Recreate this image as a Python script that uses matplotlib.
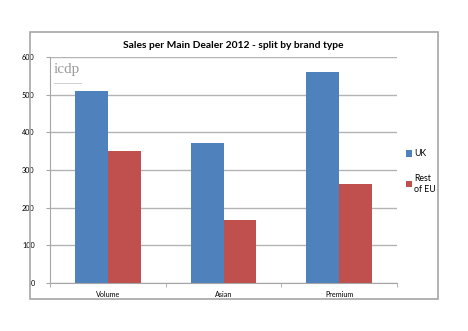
import numpy as np
import matplotlib.pyplot as plt
from matplotlib.patches import Rectangle
from matplotlib.lines import Line2D

plt.rcParams["font.family"] = ["Lato", "DejaVu Sans"]

categories = ["Volume", "Asian", "Premium"]
uk = [511, 371, 560]
rest_eu = [351, 167, 264]
series_labels = ["UK", "Rest\nof EU"]

fig = plt.figure(figsize=(4.68, 3.31), dpi=100)
fig.patch.set_facecolor("white")

# outer chart frame
fig.patches.append(Rectangle((30 / 468, 1 - 299 / 331), 408 / 468, 267 / 331,
                             transform=fig.transFigure, fill=False,
                             edgecolor="#a6a6a6", linewidth=1.2))

ax = fig.add_axes([50 / 468, 1 - 283 / 331, 347 / 468, 226 / 331])
x = np.arange(len(categories))
w = 0.285
ax.bar(x - w / 2, uk, w, color="#4F81BD", label=series_labels[0])
ax.bar(x + w / 2, rest_eu, w, color="#C0504D", label=series_labels[1])

ax.set_xlim(-0.5, 2.5)
ax.set_ylim(0, 600)
ax.set_yticks(range(0, 601, 100))
ax.set_xticks(x)
ax.set_xticklabels(categories)
ax.set_xticks([-0.5, 0.5, 1.5, 2.5], minor=True)
ax.tick_params(axis="x", which="major", length=0, labelsize=5.2, pad=6)
ax.tick_params(axis="x", which="minor", length=3, color="#a6a6a6")
ax.tick_params(axis="y", length=3, color="#a6a6a6", labelsize=5.2, pad=8)
ax.yaxis.grid(True, color="#b3b3b3", linewidth=1)
ax.set_axisbelow(True)
for s in ["top", "right"]:
    ax.spines[s].set_visible(False)
for s in ["left", "bottom"]:
    ax.spines[s].set_color("#a6a6a6")

fig.text(233 / 468, 1 - 45 / 331, "Sales per Main Dealer 2012 - split by brand type",
         ha="center", va="center", fontsize=7.4, fontweight="bold")

# logo text
ax.text(0.01, 0.975, "icdp", transform=ax.transAxes, ha="left", va="top",
        family="Liberation Serif", fontsize=11, color="#9a9a9a")
ax.add_line(Line2D([0.012, 0.09], [0.885, 0.885], transform=ax.transAxes,
                   color="#c8c8c8", linewidth=0.6))

ax.legend(loc="upper left", bbox_to_anchor=(402 / 468, 1 - 146 / 331),
          bbox_transform=fig.transFigure, frameon=False, fontsize=6.3,
          handlelength=0.7, handleheight=0.7, handletextpad=0.3,
          labelspacing=1.8, borderaxespad=0)

fig.savefig("out.png", dpi=100)
